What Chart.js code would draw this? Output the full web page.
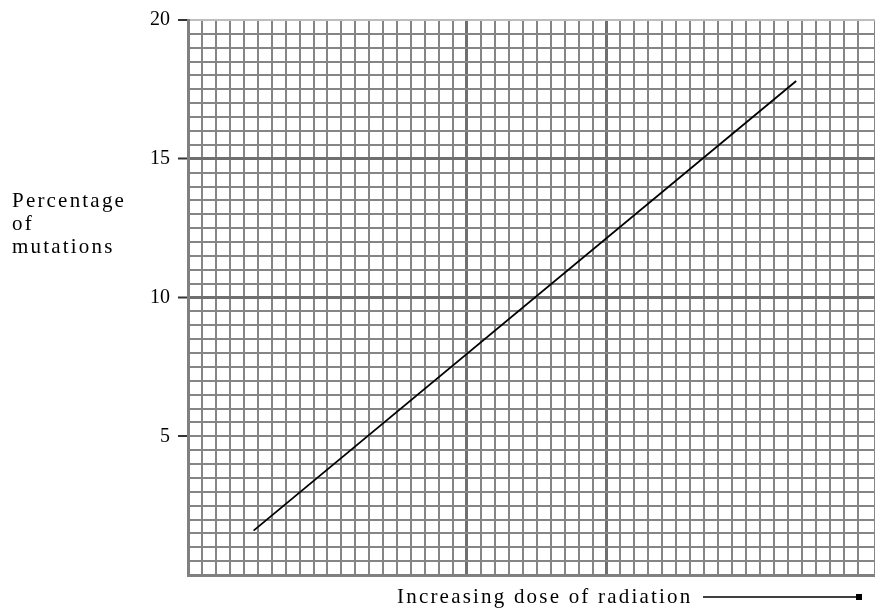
<!DOCTYPE html>
<html>
<head>
<meta charset="utf-8">
<script src="https://cdn.jsdelivr.net/npm/chart.js@4.4.1/dist/chart.umd.min.js"></script>
<style>
  html, body { margin: 0; padding: 0; background: #ffffff; }
  #wrap { width: 875px; height: 612px; position: relative; }
</style>
</head>
<body>
<div id="wrap"><canvas id="c" width="875" height="612"></canvas></div>
<script>
// ---- data ----
const doseValues = [4.7, 43.6];            // increasing dose (grid squares)
const mutationPercent = [1.6, 17.8];       // percentage of mutations
const yTickLabels = [5, 10, 15, 20];
const yLabelLines = ['Percentage', 'of', 'mutations'];
const xLabelText = 'Increasing dose of radiation';

const FONT = "'Liberation Serif', 'Times New Roman', serif";
const GRID = '#858585';
const MAJOR = '#6f6f6f';

const labelsPlugin = {
  id: 'labels',
  afterDraw(chart) {
    const ctx = chart.ctx;
    ctx.save();
    ctx.fillStyle = '#000';
    ctx.font = '21px ' + FONT;
    ctx.letterSpacing = '2.2px';
    ctx.textBaseline = 'middle';
    ctx.textAlign = 'left';
    yLabelLines.forEach((t, i) => ctx.fillText(t, 12, 201 + i * 23));
    // x axis title + arrow
    const tx = 397;
    const ty = 597;
    ctx.fillText(xLabelText, tx, ty);
    ctx.strokeStyle = '#000';
    ctx.lineWidth = 1.5;
    ctx.beginPath();
    ctx.moveTo(703, ty);
    ctx.lineTo(858, ty);
    ctx.stroke();
    ctx.fillRect(856, ty - 3, 6, 6);
    ctx.restore();
  }
};

new Chart(document.getElementById('c'), {
  type: 'scatter',
  data: {
    datasets: [{
      data: doseValues.map((d, i) => ({ x: d, y: mutationPercent[i] })),
      showLine: true,
      borderColor: '#000',
      borderWidth: 1.8,
      pointRadius: 0,
      fill: false
    }]
  },
  options: {
    responsive: false,
    animation: false,
    devicePixelRatio: 1,
    layout: { padding: { top: 16, right: 0, bottom: 0, left: 0 } },
    plugins: { legend: { display: false }, tooltip: { enabled: false } },
    scales: {
      x: {
        type: 'linear',
        min: 0,
        max: 49.25,
        ticks: { display: false, stepSize: 1 },
        grid: {
          drawTicks: false,
          color: (c) => (c.tick && (c.tick.value === 20 || c.tick.value === 30)) ? MAJOR : GRID,
          lineWidth: (c) => (c.tick && (c.tick.value === 20 || c.tick.value === 30)) ? 3 : 2
        },
        border: { display: true, color: '#808080', width: 3 },
        afterFit(s) { s.height = 37; }
      },
      y: {
        type: 'linear',
        min: 0,
        max: 20,
        ticks: {
          stepSize: 0.5,
          autoSkip: false,
          padding: 8,
          color: '#000',
          font: { family: FONT, size: 20 },
          callback: (v) => yTickLabels.includes(v) ? String(v) : ''
        },
        grid: {
          drawTicks: true,
          tickLength: 10,
          tickWidth: 2,
          tickColor: (c) => yTickLabels.includes(c.tick.value) ? '#333' : 'rgba(0,0,0,0)',
          color: (c) => c.tick.value === 20 ? '#bdbdbd' : ((c.tick.value === 10 || c.tick.value === 15) ? MAJOR : GRID),
          lineWidth: (c) => (c.tick.value === 10 || c.tick.value === 15) ? 3 : 2
        },
        border: { display: true, color: '#808080', width: 3 },
        afterFit(s) { s.width = 188; }
      }
    }
  },
  plugins: [labelsPlugin]
});
</script>
</body>
</html>
